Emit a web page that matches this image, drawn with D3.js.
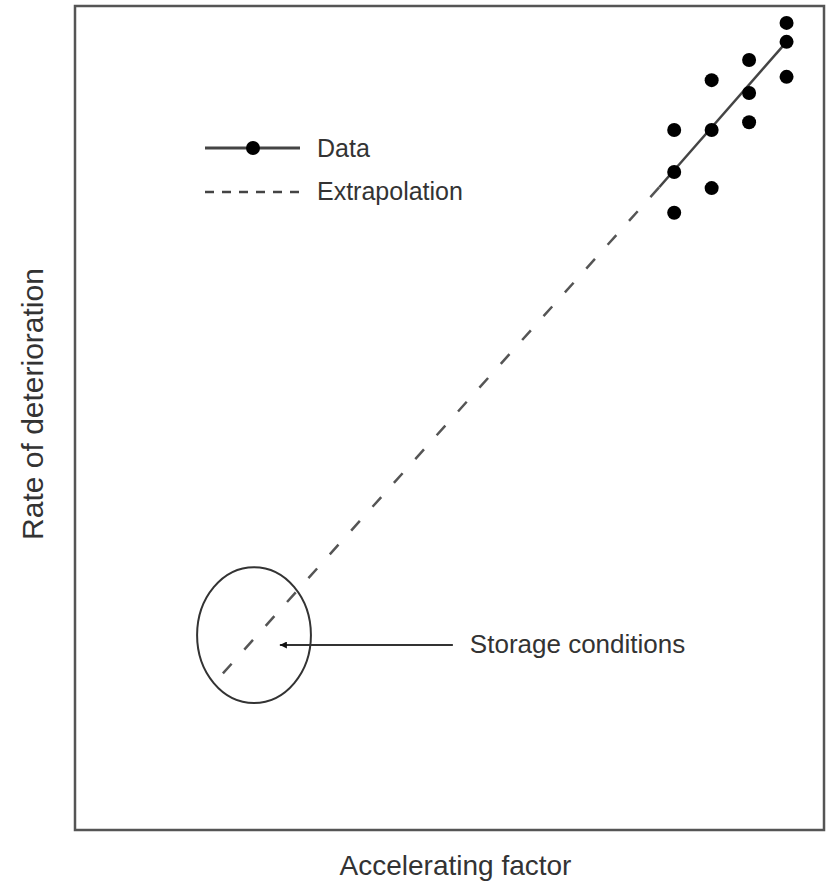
<!DOCTYPE html>
<html>
<head>
<meta charset="utf-8">
<script src="https://cdn.jsdelivr.net/npm/d3@7"></script>
<style>
  html, body { margin: 0; padding: 0; background: #fff; }
  svg { display: block; font-family: "Liberation Sans", Arial, sans-serif; }
</style>
</head>
<body>
<div id="chart"></div>
<script>
// Datos (unidades arbitrarias 0..20)
const accelX = [16, 16, 16, 17, 17, 17, 18, 18, 18, 19, 19, 19];
const rateY  = [16.99, 15.97, 14.98, 18.20, 16.99, 15.58, 18.69, 17.89, 17.18, 19.59, 19.13, 18.28];

const fitX   = [15.6, 19];
const fitY   = [15.6, 19.13];
const extraX = [3.95, 15.6];
const extraY = [3.8, 15.6];

// Zona de almacenamiento (elipse) y flecha de la anotación
const storageCenter = [4.78, 4.73];
const storageRadius = [1.52, 1.65];
const arrowX = [10.09, 5.47];
const arrowY = [4.49, 4.49];

const legendLabels = ['Data', 'Extrapolation'];
const xTitle = 'Accelerating factor';
const yTitle = 'Rate of deterioration';
const storageLabel = 'Storage conditions';

const W = 831, H = 881;
const mLeft = 75, mRight = 824, mTop = 6, mBottom = 830;
const ink = '#333';

const x = d3.scaleLinear().domain([0, 20]).range([mLeft, mRight]);
const y = d3.scaleLinear().domain([0, 20]).range([mBottom, mTop]);

const svg = d3.select('#chart').append('svg')
    .attr('width', W).attr('height', H);

svg.append('defs').append('marker')
    .attr('id', 'arrowhead')
    .attr('viewBox', '0 0 10 10')
    .attr('refX', 10).attr('refY', 5)
    .attr('markerWidth', 8).attr('markerHeight', 3.5)
    .attr('markerUnits', 'strokeWidth')
    .attr('orient', 'auto')
    .append('path').attr('d', 'M0,0 L10,5 L0,10 Z').attr('fill', '#111');

// Marco
svg.append('rect')
    .attr('x', mLeft).attr('y', mTop)
    .attr('width', mRight - mLeft).attr('height', mBottom - mTop)
    .attr('fill', 'none').attr('stroke', '#555').attr('stroke-width', 2.5);

const line = d3.line().x(d => x(d[0])).y(d => y(d[1]));

// Extrapolación (discontinua)
svg.append('path')
    .datum(d3.zip(extraX, extraY))
    .attr('d', line)
    .attr('fill', 'none').attr('stroke', '#555')
    .attr('stroke-width', 2.5).attr('stroke-dasharray', '13,19');

// Recta ajustada
svg.append('path')
    .datum(d3.zip(fitX, fitY))
    .attr('d', line)
    .attr('fill', 'none').attr('stroke', '#444').attr('stroke-width', 2.5);

// Puntos
svg.append('g').selectAll('circle')
    .data(d3.zip(accelX, rateY))
    .join('circle')
    .attr('cx', d => x(d[0])).attr('cy', d => y(d[1]))
    .attr('r', 7).attr('fill', '#000');

// Elipse de condiciones de almacenamiento
svg.append('ellipse')
    .attr('cx', x(storageCenter[0])).attr('cy', y(storageCenter[1]))
    .attr('rx', x(storageRadius[0]) - x(0))
    .attr('ry', y(0) - y(storageRadius[1]))
    .attr('fill', 'none').attr('stroke', '#333').attr('stroke-width', 2);

svg.append('line')
    .attr('x1', x(arrowX[0])).attr('y1', y(arrowY[0]))
    .attr('x2', x(arrowX[1])).attr('y2', y(arrowY[1]))
    .attr('stroke', '#333').attr('stroke-width', 2)
    .attr('marker-end', 'url(#arrowhead)');

svg.append('text')
    .attr('x', x(arrowX[0]) + 17).attr('y', y(arrowY[0]) + 8)
    .style('font-size', '26px').style('fill', ink)
    .text(storageLabel);

// Leyenda
const lg = svg.append('g');
lg.append('line')
    .attr('x1', 205).attr('x2', 300).attr('y1', 148).attr('y2', 148)
    .attr('stroke', '#444').attr('stroke-width', 3);
lg.append('circle').attr('cx', 253).attr('cy', 148).attr('r', 7).attr('fill', '#000');
lg.append('line')
    .attr('x1', 205).attr('x2', 300).attr('y1', 192).attr('y2', 192)
    .attr('stroke', '#444').attr('stroke-width', 2.5).attr('stroke-dasharray', '9,8');
lg.selectAll('text')
    .data(legendLabels)
    .join('text')
    .attr('x', 317).attr('y', (d, i) => 157 + i * 43)
    .style('font-size', '25px').style('fill', ink)
    .text(d => d);

// Títulos de ejes
svg.append('text')
    .attr('x', (mLeft + mRight) / 2 + 6).attr('y', 875)
    .attr('text-anchor', 'middle')
    .style('font-size', '28px').style('fill', ink)
    .text(xTitle);

svg.append('text')
    .attr('transform', 'translate(43, 404) rotate(-90)')
    .attr('text-anchor', 'middle')
    .style('font-size', '30px').style('fill', ink)
    .text(yTitle);
</script>
</body>
</html>
